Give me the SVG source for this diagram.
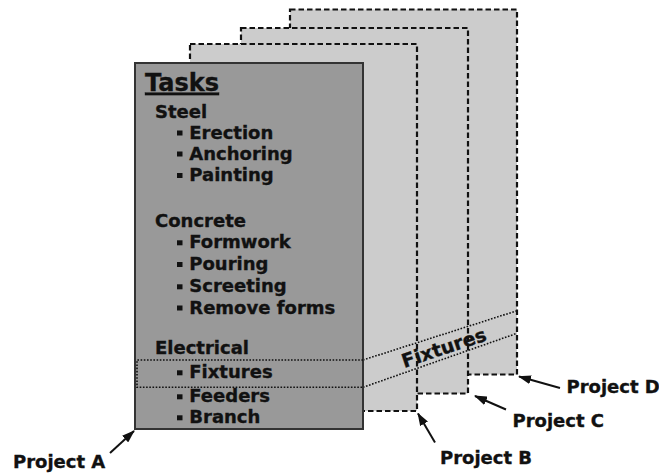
<svg xmlns="http://www.w3.org/2000/svg" width="659" height="476" viewBox="0 0 659 476">
<style>
.pg{fill:#cccccc;stroke:#111;stroke-width:2.2;stroke-dasharray:5.5,3}
.dot{fill:none;stroke:#111;stroke-width:1.6;stroke-dasharray:1.6,1.6}
.t{font-family:"DejaVu Sans",Verdana,sans-serif;font-weight:bold;font-size:18px;fill:#111;stroke:#111;stroke-width:0.35}
.b{fill:#111}
.arr{stroke:#111;stroke-width:2;fill:none;marker-end:url(#ah)}
</style>
<defs>
<marker id="ah" viewBox="0 0 13 9" refX="12" refY="4.5" markerWidth="6.5" markerHeight="4.5" orient="auto" markerUnits="strokeWidth">
<path d="M0,0 L13,4.5 L0,9 z" fill="#111"/>
</marker>
</defs>
<g id="projectD"><rect class="pg" x="290" y="9.5" width="227" height="365"/></g>
<g id="projectC"><rect class="pg" x="241" y="28" width="227" height="365.5"/></g>
<g id="projectB"><rect class="pg" x="190" y="44" width="227" height="367"/></g>
<g id="fixturesBand">
<path class="dot" d="M363,360 L517,310.7 M363,387.3 L517,333.3"/>
<text class="t" x="0" y="0" text-anchor="middle" style="font-size:19px" transform="translate(446,354) rotate(-18.5)">Fixtures</text>
</g>
<g id="projectA">
<rect x="135" y="63" width="228" height="366" fill="#999999" stroke="#333" stroke-width="2"/>
<text class="t" x="145" y="90.7" style="font-size:24px;text-decoration:underline">Tasks</text>
<text class="t" x="155" y="118.3">Steel</text>
<rect class="b" x="177" y="130.5" width="5.5" height="5"/><text class="t" x="189.3" y="138.5">Erection</text>
<rect class="b" x="177" y="151.5" width="5.5" height="5"/><text class="t" x="189.3" y="159.5">Anchoring</text>
<rect class="b" x="177" y="173" width="5.5" height="5"/><text class="t" x="189.3" y="181">Painting</text>
<text class="t" x="155" y="227.3">Concrete</text>
<rect class="b" x="177" y="240.3" width="5.5" height="5"/><text class="t" x="189.3" y="248.3">Formwork</text>
<rect class="b" x="177" y="262" width="5.5" height="5"/><text class="t" x="189.3" y="270">Pouring</text>
<rect class="b" x="177" y="284.3" width="5.5" height="5"/><text class="t" x="189.3" y="292.3">Screeting</text>
<rect class="b" x="177" y="305.5" width="5.5" height="5"/><text class="t" x="189.3" y="313.5">Remove forms</text>
<text class="t" x="155" y="354.3">Electrical</text>
<rect class="b" x="177" y="370.3" width="5.5" height="5"/><text class="t" x="189.3" y="378.3">Fixtures</text>
<rect class="b" x="177" y="394.3" width="5.5" height="5"/><text class="t" x="189.3" y="402.3">Feeders</text>
<rect class="b" x="177" y="415.3" width="5.5" height="5"/><text class="t" x="189.3" y="423.3">Branch</text>
<path class="dot" d="M363,360 L137,360 L137,387.3 L363,387.3"/>
</g>
<g id="connectors">
<line class="arr" x1="110" y1="453" x2="134" y2="431"/>
<line class="arr" x1="435" y1="442.5" x2="418" y2="413.5"/>
<line class="arr" x1="506" y1="409.5" x2="475" y2="396"/>
<line class="arr" x1="560" y1="388" x2="519" y2="376.5"/>
</g>
<g id="labels">
<text class="t" x="13" y="468">Project A</text>
<text class="t" x="440" y="463.5">Project B</text>
<text class="t" x="512.5" y="426.7">Project C</text>
<text class="t" x="566.5" y="393.3">Project D</text>
</g>
</svg>
